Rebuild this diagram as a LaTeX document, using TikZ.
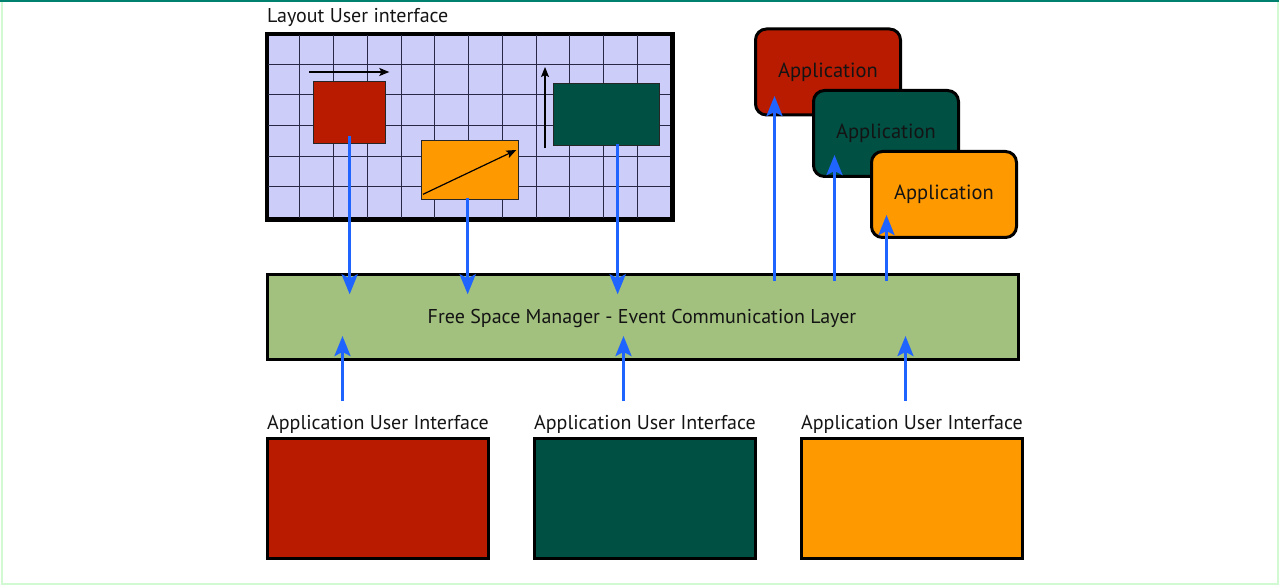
\documentclass[tikz,border=0pt]{standalone}
\usepackage{fontspec}
\setmainfont{PT Sans}
\usetikzlibrary{arrows.meta}
\definecolor{appred}{RGB}{184,27,0}
\definecolor{appgreen}{RGB}{0,80,68}
\definecolor{apporange}{RGB}{255,153,0}
\definecolor{layergreen}{RGB}{162,193,126}
\definecolor{gridfill}{RGB}{205,205,250}
\definecolor{gridline}{RGB}{40,40,70}
\definecolor{flowblue}{RGB}{31,100,255}
\definecolor{frametop}{RGB}{0,128,110}
\definecolor{frameside}{RGB}{210,250,210}
\definecolor{txt}{RGB}{20,20,20}
\tikzset{
  box/.style={draw=black, line width=3pt, inner sep=0pt, anchor=north west},
  smallbox/.style={draw=black!85, line width=1.3pt, inner sep=0pt, anchor=north west},
  appbox/.style={draw=black, line width=3pt, rounded corners=11pt, inner sep=0pt,
    anchor=north west, minimum width=145pt, minimum height=86pt,
    font=\fontsize{20.5}{24}\selectfont, text=txt},
  flow/.style={draw=flowblue, line width=3pt,
    -{Stealth[length=20pt,width=16pt,inset=4pt]}},
  moveline/.style={draw=black, line width=1.2pt,
    -{Stealth[length=10pt,width=8pt,inset=2pt]}},
  lbl/.style={font=\fontsize{20}{24}\selectfont, text=txt, inner sep=0pt},
}
\begin{document}
\begin{tikzpicture}[x=1pt,y=-1pt]
\useasboundingbox (0,0) rectangle (1279,585);
% frame
\draw[frameside, line width=2pt] (1.5,1.5) rectangle (1277.5,583.5);
\draw[frametop, line width=2.5pt] (0,1.2) -- (1279,1.2);

% layout user interface
\node[lbl, anchor=west] (title) at (267,17) {Layout User interface};
\node[box, fill=gridfill, minimum width=404pt, minimum height=184pt] (layout) at (266,33.5) {};
\foreach \i in {1,...,11} {
  \draw[gridline, line width=0.9pt] (266+\i*33.75,33) -- (266+\i*33.75,218);
}
\foreach \j in {1,...,5} {
  \draw[gridline, line width=0.9pt] (266,33.5+\j*30.67) -- (670,33.5+\j*30.67);
}
\draw[black, line width=3pt] (layout.north west) rectangle (layout.south east);

\node[smallbox, fill=appred, minimum width=72pt, minimum height=62pt] (rs) at (313,81) {};
\node[smallbox, fill=apporange, minimum width=97pt, minimum height=59pt] (os) at (421,140) {};
\node[smallbox, fill=appgreen, minimum width=106pt, minimum height=62pt] (gs) at (553,83) {};

\draw[moveline] ([xshift=-4pt,yshift=9pt]rs.north west) -- ([xshift=3pt,yshift=9pt]rs.north east);
\draw[moveline] ([xshift=-8pt,yshift=-2pt]gs.south west) -- ([xshift=-8pt,yshift=16pt]gs.north west);
\draw[moveline] ([xshift=2pt,yshift=6pt]os.south west) -- ([xshift=-3pt,yshift=-10pt]os.north east);

% layer
\node[box, fill=layergreen, minimum width=751pt, minimum height=84pt] (layer) at (266,273.5) {};
\node[lbl, anchor=base] (layertext) at (642,323) {Free Space Manager - Event Communication Layer};

% applications
\node[appbox, fill=appred] (app1) at (754,27.5) {Application};
\node[appbox, fill=appgreen] (app2) at (812,89) {Application};
\node[appbox, fill=apporange] (app3) at (870,150) {Application};

% bottom application UIs
\node[box, fill=appred, minimum width=221pt, minimum height=120pt] (ui1) at (266,437) {};
\node[box, fill=appgreen, minimum width=221pt, minimum height=120pt] (ui2) at (533,437) {};
\node[box, fill=apporange, minimum width=221pt, minimum height=120pt] (ui3) at (800,437) {};
\node[lbl, anchor=base] (l1) at ([yshift=8pt]ui1.north) {Application User Interface};
\node[lbl, anchor=base] (l2) at ([yshift=8pt]ui2.north) {Application User Interface};
\node[lbl, anchor=base] (l3) at ([yshift=8pt]ui3.north) {Application User Interface};

% flows down from layout
\draw[flow] ([yshift=8pt]rs.south) -- ++(0,158);
\draw[flow] ([xshift=-2.5pt,yshift=2pt]os.south) -- ++(0,96);
\draw[flow] ([xshift=11pt,yshift=2pt]gs.south) -- ++(0,150);

% flows up to applications
\draw[flow] ([xshift=131.5pt,yshift=-7.5pt]layer.north) -- ++(0,-185);
\draw[flow] ([xshift=191.5pt,yshift=-7.5pt]layer.north) -- ++(0,-126);
\draw[flow] ([xshift=243.5pt,yshift=-7.5pt]layer.north) -- ++(0,-66);

% flows up from UIs
\draw[flow] ([xshift=-300.5pt,yshift=-40.5pt]layer.south) -- ++(0,-65);
\draw[flow] ([xshift=-19.5pt,yshift=-40.5pt]layer.south) -- ++(0,-65);
\draw[flow] ([xshift=262.5pt,yshift=-40.5pt]layer.south) -- ++(0,-65);
\end{tikzpicture}
\end{document}
